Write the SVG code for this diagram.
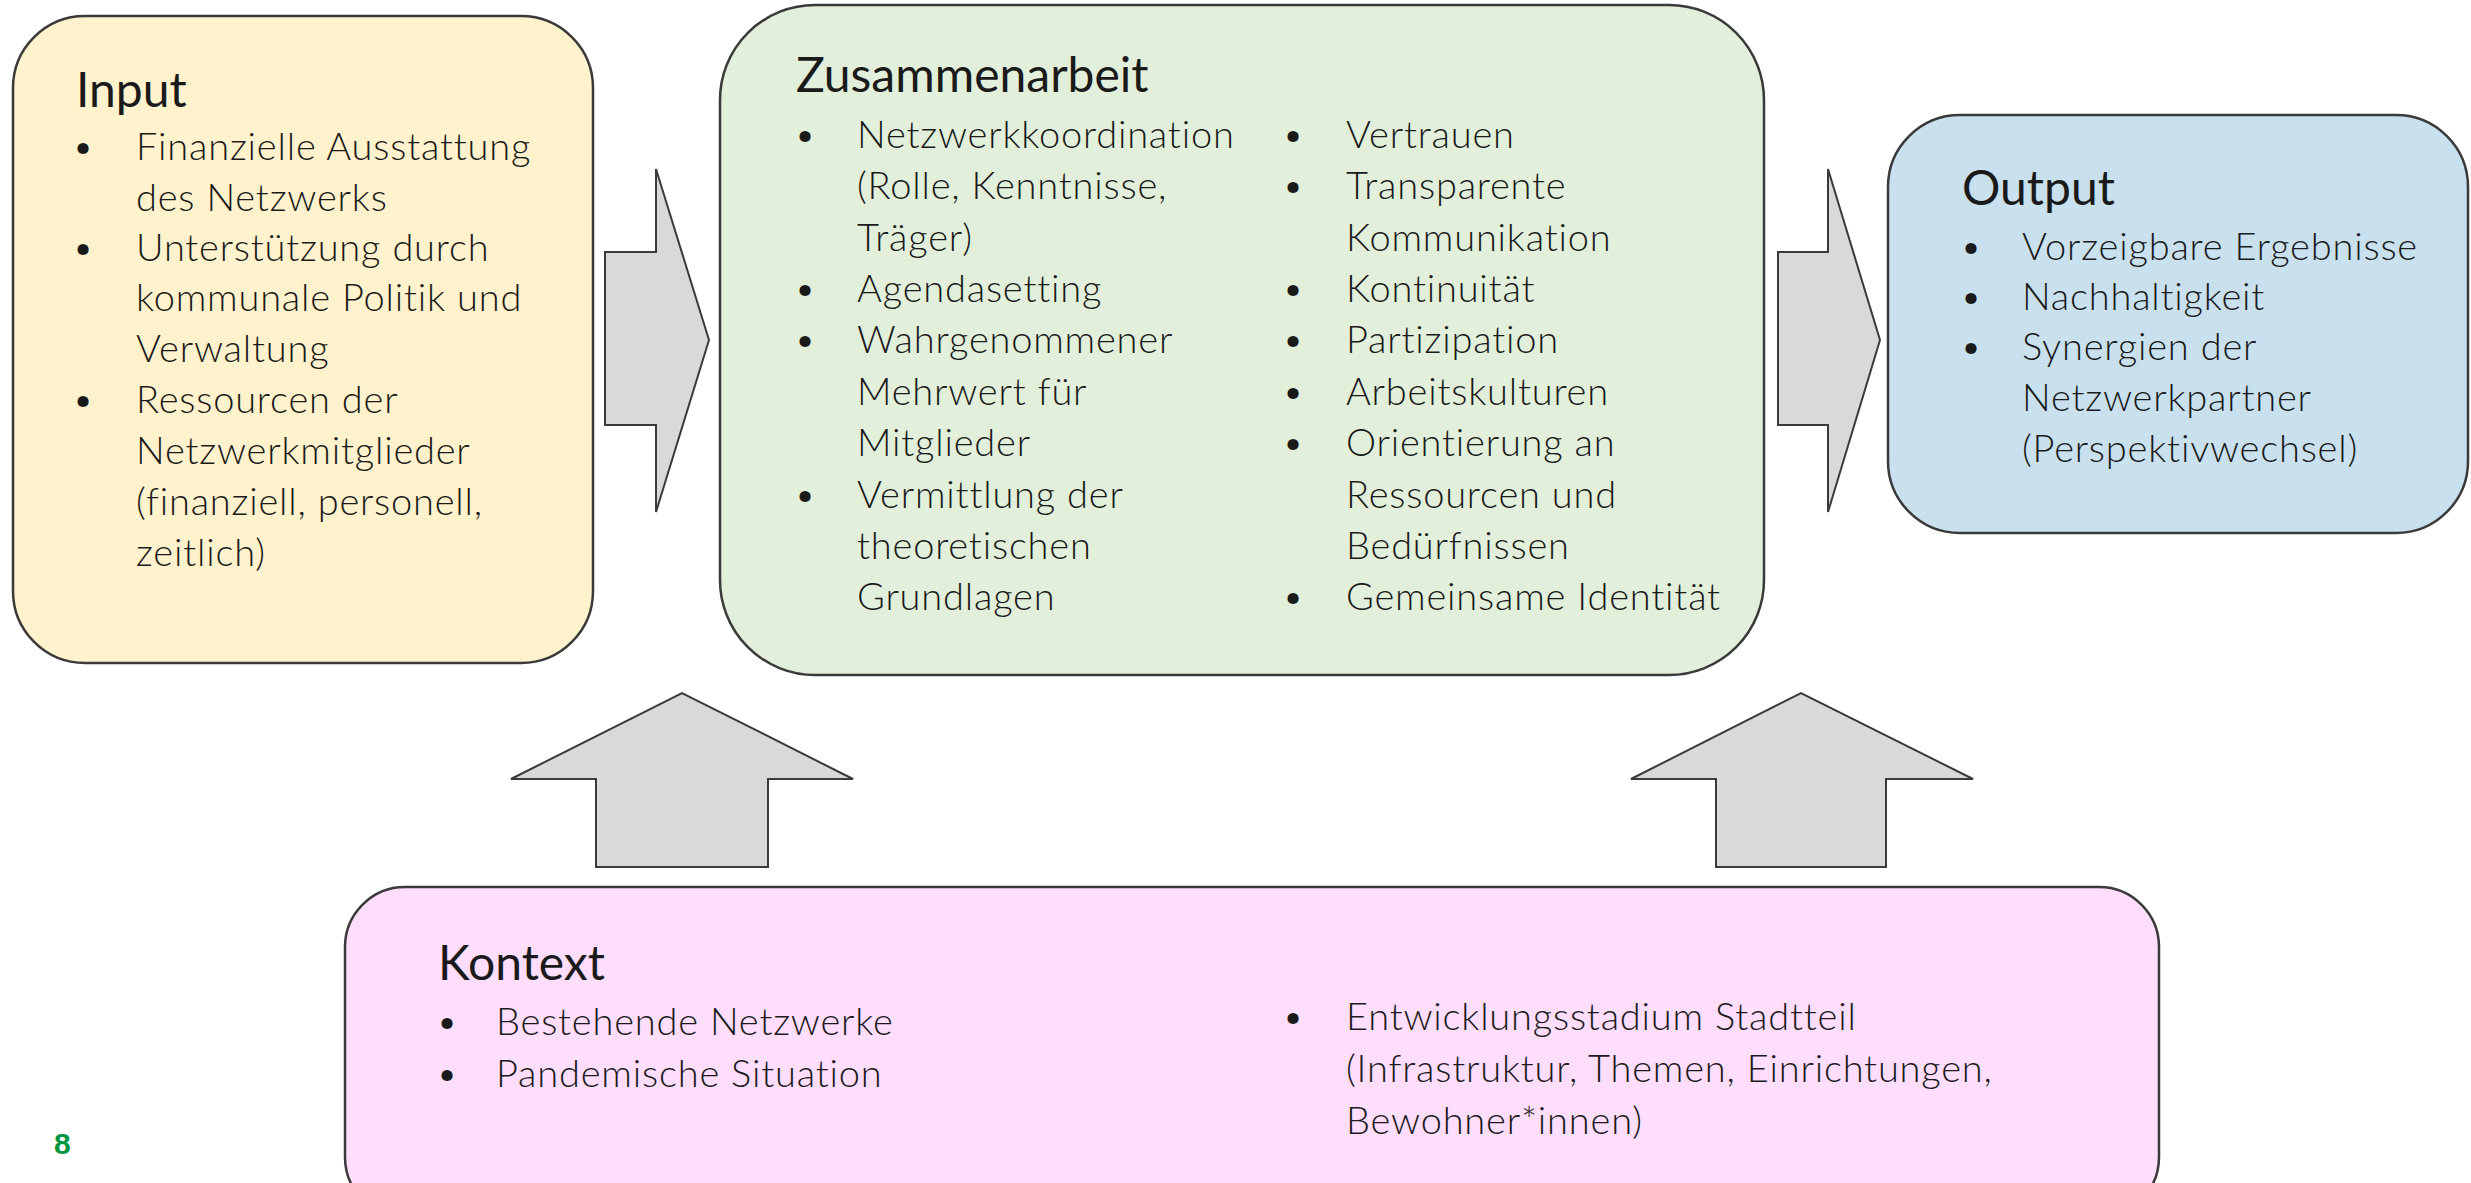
<svg xmlns="http://www.w3.org/2000/svg" width="2471" height="1183" viewBox="0 0 2471 1183">
<style>
.box{stroke:#3a3a3a;stroke-width:2.5}
.arr{fill:#d9d9d9;stroke:#3a3a3a;stroke-width:2}
text{font-family:Lato,"Open Sans","Liberation Sans",sans-serif;fill:#1a1a1a}
.t{font-size:48px;font-weight:400}
.b{font-size:38px;font-weight:300;letter-spacing:0.8px}
.num{font-family:"Liberation Sans",Arial,sans-serif;font-weight:bold;font-size:30px;fill:#00963f}
</style>
<rect width="2471" height="1183" fill="#ffffff"/>
<g id="connectors">
<polygon class="arr" points="605,252 656,252 656,169 709,340 656,512 656,425 605,425"/>
<polygon class="arr" points="1778,252 1828,252 1828,169 1880,340 1828,512 1828,425 1778,425"/>
<polygon class="arr" points="596,867 596,779 511,779 682,693 853,779 768,779 768,867"/>
<polygon class="arr" points="1716,867 1716,779 1631,779 1801,693 1973,779 1886,779 1886,867"/>
</g>
<g id="input">
<rect class="box" x="13" y="16" width="580" height="647" rx="72" fill="#fff2cc"/>
<text class="t" x="76" y="107">Input</text>
<g class="b">
<text x="72" y="160">•</text><text x="136" y="160">Finanzielle Ausstattung</text>
<text x="136" y="211">des Netzwerks</text>
<text x="72" y="261">•</text><text x="136" y="261">Unterstützung durch</text>
<text x="136" y="311">kommunale Politik und</text>
<text x="136" y="362">Verwaltung</text>
<text x="72" y="413">•</text><text x="136" y="413">Ressourcen der</text>
<text x="136" y="464">Netzwerkmitglieder</text>
<text x="136" y="515">(finanziell, personell,</text>
<text x="136" y="566">zeitlich)</text>
</g>
</g>
<g id="zusammenarbeit">
<rect class="box" x="720" y="5" width="1044" height="670" rx="95" fill="#e2efda"/>
<text class="t" x="796" y="92">Zusammenarbeit</text>
<g class="b">
<text x="794" y="148">•</text><text x="857" y="148">Netzwerkkoordination</text>
<text x="857" y="199">(Rolle, Kenntnisse,</text>
<text x="857" y="251">Träger)</text>
<text x="794" y="302">•</text><text x="857" y="302">Agendasetting</text>
<text x="794" y="353">•</text><text x="857" y="353">Wahrgenommener</text>
<text x="857" y="405">Mehrwert für</text>
<text x="857" y="456">Mitglieder</text>
<text x="794" y="508">•</text><text x="857" y="508">Vermittlung der</text>
<text x="857" y="559">theoretischen</text>
<text x="857" y="610">Grundlagen</text>
<text x="1282" y="148">•</text><text x="1346" y="148">Vertrauen</text>
<text x="1282" y="199">•</text><text x="1346" y="199">Transparente</text>
<text x="1346" y="251">Kommunikation</text>
<text x="1282" y="302">•</text><text x="1346" y="302">Kontinuität</text>
<text x="1282" y="353">•</text><text x="1346" y="353">Partizipation</text>
<text x="1282" y="405">•</text><text x="1346" y="405">Arbeitskulturen</text>
<text x="1282" y="456">•</text><text x="1346" y="456">Orientierung an</text>
<text x="1346" y="508">Ressourcen und</text>
<text x="1346" y="559">Bedürfnissen</text>
<text x="1282" y="610">•</text><text x="1346" y="610">Gemeinsame Identität</text>
</g>
</g>
<g id="output">
<rect class="box" x="1888" y="115" width="580" height="418" rx="72" fill="#c9e0ee"/>
<text class="t" x="1962" y="205">Output</text>
<g class="b">
<text x="1960" y="260">•</text><text x="2022" y="260">Vorzeigbare Ergebnisse</text>
<text x="1960" y="310">•</text><text x="2022" y="310">Nachhaltigkeit</text>
<text x="1960" y="360">•</text><text x="2022" y="360">Synergien der</text>
<text x="2022" y="411">Netzwerkpartner</text>
<text x="2022" y="462">(Perspektivwechsel)</text>
</g>
</g>
<g id="kontext">
<rect class="box" x="345" y="887" width="1814" height="330" rx="60" fill="#ffddfd"/>
<text class="t" x="438" y="980">Kontext</text>
<g class="b">
<text x="436" y="1035">•</text><text x="496" y="1035">Bestehende Netzwerke</text>
<text x="436" y="1087">•</text><text x="496" y="1087">Pandemische Situation</text>
<text x="1282" y="1030">•</text><text x="1346" y="1030">Entwicklungsstadium Stadtteil</text>
<text x="1346" y="1082">(Infrastruktur, Themen, Einrichtungen,</text>
<text x="1346" y="1134">Bewohner*innen)</text>
</g>
</g>
<text class="num" x="54" y="1154">8</text>
</svg>
